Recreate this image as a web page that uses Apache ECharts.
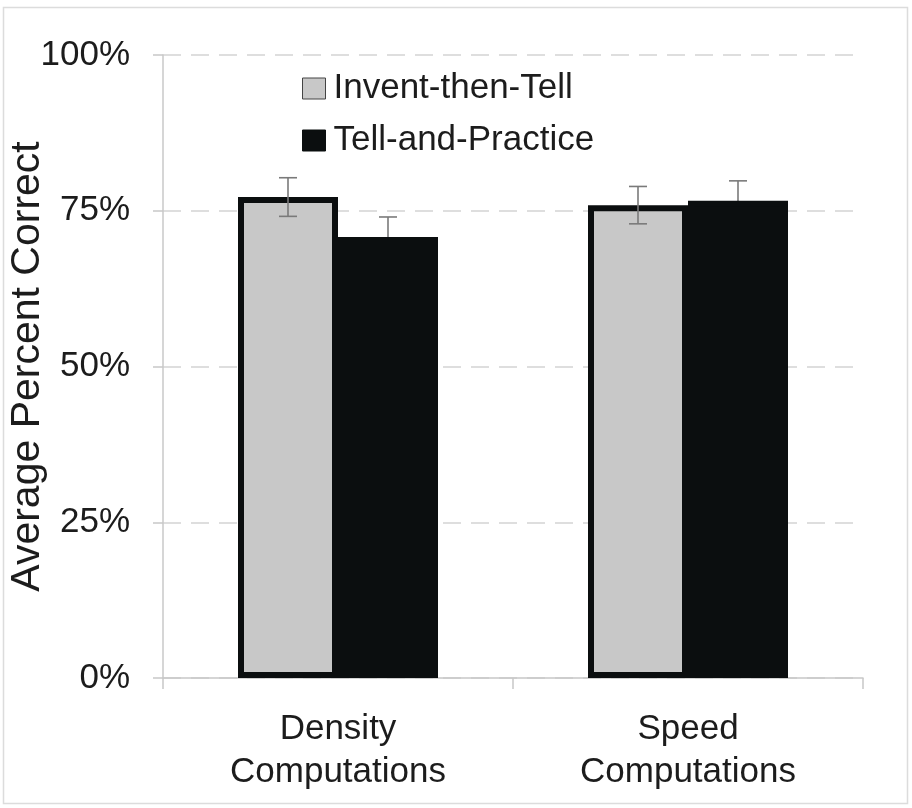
<!DOCTYPE html>
<html>
<head>
<meta charset="utf-8">
<script src="https://cdn.jsdelivr.net/npm/echarts@6/dist/echarts.min.js"></script>
<style>
html,body{margin:0;padding:0;background:#fff;}
#chart{width:912px;height:808px;}
</style>
</head>
<body>
<div id="chart"></div>
<script>
// ---- data ----
var categories = ['Density\nComputations', 'Speed\nComputations'];
var seriesNames = ['Invent-then-Tell', 'Tell-and-Practice'];
var inventValues = [77.2, 75.9];
var practiceValues = [70.8, 76.6];
var inventErrors = [3.1, 3.0];
var practiceErrors = [3.2, 3.2];
var yTicks = [0, 25, 50, 75, 100];

var FONT = '"Liberation Sans", Arial, Helvetica, sans-serif';
var TEXT = '#1c1c1c';

function errData(values, errs) {
  return values.map(function (v, i) { return [i, v, errs[i]]; });
}

function makeErrRender(offset) {
  return function (params, api) {
    var idx = api.value(0), mean = api.value(1), err = api.value(2);
    var hi = api.coord([idx, mean + err]);
    var lo = api.coord([idx, mean - err]);
    var x = hi[0] + offset;
    var cap = 9;
    var style = { stroke: '#7a7a7a', lineWidth: 1.6 };
    return {
      type: 'group',
      children: [
        { type: 'line', shape: { x1: x, y1: hi[1], x2: x, y2: lo[1] }, style: style },
        { type: 'line', shape: { x1: x - cap, y1: hi[1], x2: x + cap, y2: hi[1] }, style: style },
        { type: 'line', shape: { x1: x - cap, y1: lo[1], x2: x + cap, y2: lo[1] }, style: style }
      ]
    };
  };
}

var chart = echarts.init(document.getElementById('chart'), null, { renderer: 'canvas' });

var option = {
  animation: false,
  backgroundColor: '#ffffff',
  graphic: [{
    type: 'rect',
    shape: { x: 3.5, y: 7.5, width: 904, height: 796 },
    style: { fill: 'none', stroke: '#dcdcdc', lineWidth: 1.5 },
    silent: true,
    z: -10
  }],
  grid: { left: 163, right: 49, top: 55, bottom: 130, containLabel: false, outerBoundsMode: 'none' },
  legend: {
    orient: 'vertical',
    left: 297,
    top: 66,
    itemWidth: 23,
    itemHeight: 21,
    itemGap: 17,
    icon: 'rect',
    textStyle: { fontFamily: FONT, fontSize: 35, color: TEXT, padding: [0, 0, 0, 3] },
    data: [
      { name: seriesNames[0], itemStyle: { color: '#c8c8c8', borderColor: '#444', borderWidth: 1 } },
      { name: seriesNames[1], itemStyle: { color: '#0b0e0f', borderColor: '#0b0e0f', borderWidth: 1 } }
    ]
  },
  xAxis: {
    type: 'category',
    data: categories,
    axisLine: { lineStyle: { color: '#c8c8c8', width: 1.5 } },
    axisTick: { show: true, length: 11, lineStyle: { color: '#c8c8c8', width: 1.5 } },
    axisLabel: {
      fontFamily: FONT, fontSize: 35, color: TEXT, lineHeight: 43, margin: 30
    },
    splitLine: { show: false }
  },
  yAxis: {
    type: 'value',
    min: 0,
    max: 100,
    interval: 25,
    name: 'Average Percent Correct',
    nameLocation: 'middle',
    nameGap: 115,
    nameMoveOverlap: false,
    nameRotate: 90,
    nameTextStyle: { fontFamily: FONT, fontSize: 41, color: TEXT },
    axisLine: { show: true, lineStyle: { color: '#c8c8c8', width: 1.5 } },
    axisTick: { show: true, length: 10, lineStyle: { color: '#c8c8c8', width: 1.5 } },
    axisLabel: {
      fontFamily: FONT, fontSize: 35, color: TEXT, margin: 33,
      formatter: function (v) { return yTicks.indexOf(v) >= 0 ? v + '%' : ''; }
    },
    splitLine: { show: true, lineStyle: { color: '#d4d4d4', type: [18, 10], width: 1.5 } }
  },
  series: [
    {
      name: seriesNames[1] + ' err',
      type: 'custom',
      renderItem: makeErrRender(50),
      data: errData(practiceValues, practiceErrors),
      z: 1,
      silent: true
    },
    {
      name: seriesNames[0],
      type: 'bar',
      data: inventValues,
      barWidth: 100,
      barGap: '0%',
      itemStyle: { color: '#c8c8c8', borderColor: '#0b0e0f', borderWidth: 6 },
      z: 2
    },
    {
      name: seriesNames[1],
      type: 'bar',
      data: practiceValues,
      barWidth: 100,
      barGap: '0%',
      itemStyle: { color: '#0b0e0f', borderColor: '#0b0e0f', borderWidth: 6 },
      z: 2
    },
    {
      name: seriesNames[0] + ' err',
      type: 'custom',
      renderItem: makeErrRender(-50),
      data: errData(inventValues, inventErrors),
      z: 5,
      silent: true
    }
  ]
};

chart.setOption(option);
</script>
</body>
</html>
